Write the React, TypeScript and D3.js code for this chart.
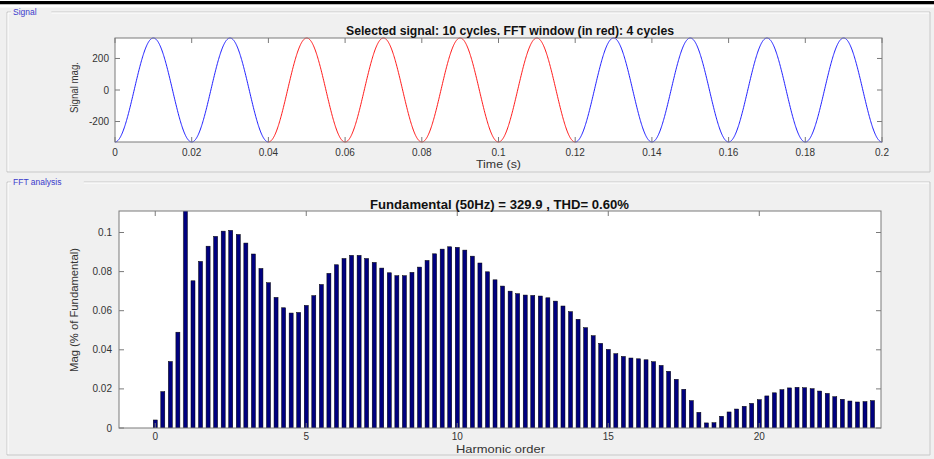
import React from "react";
import * as d3 from "d3";

// ---- data ----
const fundamentalAmp = 329.9; // V
const fundamentalHz = 50;
const totalCycles = 10;
const fftStartCycle = 2;
const fftCycles = 4;
const timeTicks = [0, 0.02, 0.04, 0.06, 0.08, 0.1, 0.12, 0.14, 0.16, 0.18, 0.2];
const signalTicks = [-200, 0, 200];

const harmonicOrders = d3.range(0, 24, 0.25);
const harmonicMags = [
  0.0041, 0.0186, 0.034, 0.049, 100, 0.0753, 0.0852, 0.093, 0.098, 0.1007, 0.1011, 0.099,
  0.0946, 0.089, 0.0816, 0.0743, 0.0668, 0.0615, 0.0588, 0.0591, 0.0627, 0.0677, 0.0734, 0.0791,
  0.0835, 0.0867, 0.0883, 0.0883, 0.0867, 0.0847, 0.0818, 0.0794, 0.0779, 0.0779, 0.0796, 0.0823,
  0.0857, 0.0891, 0.0915, 0.0927, 0.0924, 0.091, 0.0879, 0.0844, 0.0799, 0.0758, 0.0726, 0.07,
  0.0687, 0.068, 0.0678, 0.0675, 0.0666, 0.0649, 0.0624, 0.0595, 0.0556, 0.0513, 0.0472, 0.0433,
  0.0402, 0.038, 0.0366, 0.0358, 0.0354, 0.0349, 0.0339, 0.032, 0.029, 0.0249, 0.0198, 0.014,
  0.008, 0.0026, 0.0027, 0.006, 0.0082, 0.0097, 0.0111, 0.0126, 0.0145, 0.0164, 0.018, 0.0196,
  0.0205, 0.0208, 0.0206, 0.0201, 0.0189, 0.0177, 0.016, 0.0147, 0.0138, 0.0133, 0.0135, 0.014,
];
const harmonicTicks = [0, 5, 10, 15, 20];
const magTicks = [0, 0.02, 0.04, 0.06, 0.08, 0.1];

const W = 934;
const H = 459;
const FONT = "'Liberation Sans', Arial, sans-serif";
const AXIS = "#7a7a7a";
const TXT = "#333";

function GroupBox({ x, y, w, h, label }: { x: number; y: number; w: number; h: number; label: string }) {
  const lw = label.length * 5.4 + 6;
  return (
    <g>
      <path
        d={`M${x + 4},${y} L${x},${y} L${x},${y + h} L${x + w},${y + h} L${x + w},${y} L${x + 6 + lw},${y}`}
        fill="none"
        stroke="#c8c8c8"
        strokeWidth={1}
      />
      <path
        d={`M${x + 4},${y + 1} L${x + 1},${y + 1} L${x + 1},${y + h - 1} M${x + w - 1},${y + 1} L${x + 6 + lw},${y + 1}`}
        fill="none"
        stroke="#ffffff"
        strokeWidth={1}
      />
      <text x={x + 6} y={y + 3} fontSize={8.5} fontFamily={FONT} fill="#3a3acc">
        {label}
      </text>
    </g>
  );
}

export default function App() {
  // top signal plot
  const tL = 115, tR = 882, tT = 38, tB = 142;
  const tx = d3.scaleLinear().domain([0, 0.2]).range([tL, tR]);
  const ty = d3.scaleLinear().domain([-fundamentalAmp, fundamentalAmp]).range([tB, tT]);
  const period = 1 / fundamentalHz;
  const N = 2000;
  const samples = d3.range(N + 1).map((i) => {
    const t = (i / N) * totalCycles * period;
    return { t, v: -fundamentalAmp * Math.cos(2 * Math.PI * fundamentalHz * t) };
  });
  const t0 = fftStartCycle * period;
  const t1 = (fftStartCycle + fftCycles) * period;
  const line = d3
    .line<{ t: number; v: number }>()
    .x((d) => tx(d.t))
    .y((d) => ty(d.v));
  const seg1 = samples.filter((d) => d.t <= t0 + 1e-9);
  const seg2 = samples.filter((d) => d.t >= t0 - 1e-9 && d.t <= t1 + 1e-9);
  const seg3 = samples.filter((d) => d.t >= t1 - 1e-9);

  // bottom FFT plot
  const bL = 119, bR = 881, bT = 211, bB = 428;
  const bx = d3.scaleLinear().domain([-1.2, 24.03]).range([bL, bR]);
  const by = d3.scaleLinear().domain([0, 0.111]).range([bB, bT]);
  const barW = 4;

  const tickLen = 5;

  return (
    <svg
      width={W}
      height={H}
      style={{ position: "absolute", left: 0, top: 0 }}
      fontFamily={FONT}
    >
      <rect x={0} y={0} width={W} height={H} fill="#f0f0f0" />
      <rect x={0} y={0} width={W} height={1} fill="#ffffff" />
      <rect x={0} y={1} width={W} height={3.5} fill="#000" />
      <rect x={0} y={4.5} width={W} height={3} fill="#ffffff" />

      <GroupBox x={7} y={12} w={923} h={160} label="Signal" />
      <GroupBox x={7} y={182} w={923} h={273} label="FFT analysis" />

      {/* ---- top plot ---- */}
      <rect x={tL} y={tT} width={tR - tL} height={tB - tT} fill="#fff" />
      <defs>
        <clipPath id="topclip">
          <rect x={tL} y={tT - 1} width={tR - tL} height={tB - tT + 2} />
        </clipPath>
        <clipPath id="botclip">
          <rect x={bL} y={bT} width={bR - bL} height={bB - bT} />
        </clipPath>
      </defs>
      <g clipPath="url(#topclip)" fill="none" strokeWidth={1}>
        <path d={line(seg1) || ""} stroke="#2020ff" />
        <path d={line(seg2) || ""} stroke="#ff1a1a" />
        <path d={line(seg3) || ""} stroke="#2020ff" />
      </g>
      <rect x={tL} y={tT} width={tR - tL} height={tB - tT} fill="none" stroke={AXIS} />
      {timeTicks.map((t) => (
        <g key={"tt" + t}>
          <line x1={tx(t)} x2={tx(t)} y1={tB} y2={tB - tickLen} stroke={AXIS} />
          <line x1={tx(t)} x2={tx(t)} y1={tT} y2={tT + tickLen} stroke={AXIS} />
          <text x={tx(t)} y={tB + 14} fontSize={10} fill={TXT} textAnchor="middle">
            {String(t)}
          </text>
        </g>
      ))}
      {signalTicks.map((v) => (
        <g key={"st" + v}>
          <line x1={tL} x2={tL + tickLen} y1={ty(v)} y2={ty(v)} stroke={AXIS} />
          <line x1={tR} x2={tR - tickLen} y1={ty(v)} y2={ty(v)} stroke={AXIS} />
          <text x={tL - 6} y={ty(v) + 3.5} fontSize={10} fill={TXT} textAnchor="end">
            {String(v)}
          </text>
        </g>
      ))}
      <text
        x={346}
        y={34.5}
        fontSize={12}
        fontWeight="bold"
        fill="#111"
        textLength={328}
        lengthAdjust="spacingAndGlyphs"
      >
        Selected signal: 10 cycles. FFT window (in red): 4 cycles
      </text>
      <text
        x={476}
        y={168}
        fontSize={11.5}
        fill={TXT}
        textLength={45}
        lengthAdjust="spacingAndGlyphs"
      >
        Time (s)
      </text>
      <text
        transform={`translate(78,113) rotate(-90)`}
        fontSize={11.5}
        fill={TXT}
        textLength={51}
        lengthAdjust="spacingAndGlyphs"
      >
        Signal mag.
      </text>

      {/* ---- bottom plot ---- */}
      <rect x={bL} y={bT} width={bR - bL} height={bB - bT} fill="#fff" />
      <g clipPath="url(#botclip)">
        {harmonicOrders.map((h, i) => (
          <rect
            key={"b" + i}
            x={bx(h) - barW / 2}
            y={by(harmonicMags[i])}
            width={barW}
            height={bB - by(harmonicMags[i])}
            fill="#00007f"
            stroke="#000"
            strokeWidth={0.5}
          />
        ))}
      </g>
      <rect x={bL} y={bT} width={bR - bL} height={bB - bT} fill="none" stroke={AXIS} />
      {harmonicTicks.map((h) => (
        <g key={"ht" + h}>
          <line x1={bx(h)} x2={bx(h)} y1={bB} y2={bB - tickLen} stroke={AXIS} />
          <line x1={bx(h)} x2={bx(h)} y1={bT} y2={bT + tickLen} stroke={AXIS} />
          <text x={bx(h)} y={bB + 12} fontSize={10} fill={TXT} textAnchor="middle">
            {String(h)}
          </text>
        </g>
      ))}
      {magTicks.map((v) => (
        <g key={"mt" + v}>
          <line x1={bL} x2={bL + tickLen} y1={by(v)} y2={by(v)} stroke={AXIS} />
          <line x1={bR} x2={bR - tickLen} y1={by(v)} y2={by(v)} stroke={AXIS} />
          <text x={bL - 7} y={by(v) + 3.5} fontSize={10} fill={TXT} textAnchor="end">
            {String(v)}
          </text>
        </g>
      ))}
      <text
        x={370}
        y={208.5}
        fontSize={12}
        fontWeight="bold"
        fill="#111"
        textLength={259}
        lengthAdjust="spacingAndGlyphs"
      >
        Fundamental (50Hz) = 329.9 , THD= 0.60%
      </text>
      <text
        x={456}
        y={453}
        fontSize={11.5}
        fill={TXT}
        textLength={89}
        lengthAdjust="spacingAndGlyphs"
      >
        Harmonic order
      </text>
      <text
        transform={`translate(78,372) rotate(-90)`}
        fontSize={11.5}
        fill={TXT}
        textLength={124}
        lengthAdjust="spacingAndGlyphs"
      >
        Mag (% of Fundamental)
      </text>
    </svg>
  );
}
